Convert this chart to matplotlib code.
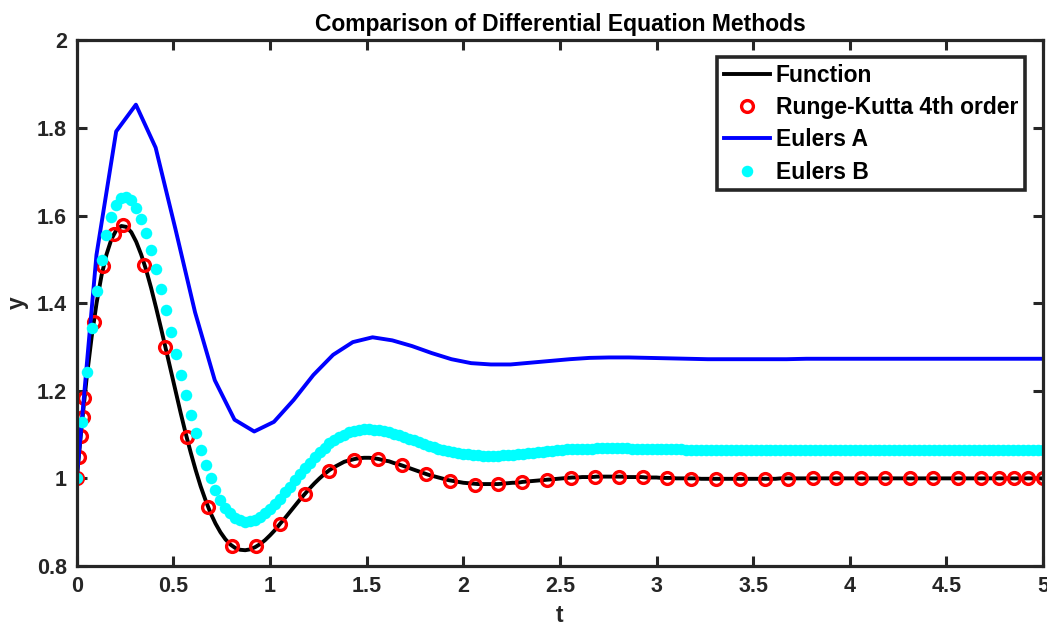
import numpy as np
import matplotlib
matplotlib.use("Agg")
import matplotlib.pyplot as plt
from matplotlib.ticker import FuncFormatter

# grids of the two Euler runs (the exact curve is sampled on the fine one)
t_fine = np.linspace(0, 5, 196)
t_coarse = np.linspace(0, 5, 50)

y_exact = [
    1.000, 1.121, 1.229, 1.322, 1.400, 1.463, 1.511, 1.546, 1.567, 1.576,
    1.574, 1.562, 1.540, 1.511, 1.476, 1.435, 1.390, 1.343, 1.294, 1.245,
    1.196, 1.148, 1.102, 1.059, 1.019, 0.982, 0.950, 0.921, 0.897, 0.877,
    0.861, 0.849, 0.841, 0.837, 0.836, 0.838, 0.843, 0.850, 0.859, 0.870,
    0.882, 0.896, 0.909, 0.923, 0.937, 0.951, 0.964, 0.977, 0.989, 1.000,
    1.010, 1.019, 1.026, 1.032, 1.038, 1.041, 1.044, 1.046, 1.047, 1.047,
    1.046, 1.044, 1.041, 1.039, 1.035, 1.032, 1.028, 1.024, 1.020, 1.016,
    1.012, 1.008, 1.005, 1.002, 0.999, 0.996, 0.994, 0.992, 0.990, 0.989,
    0.988, 0.987, 0.987, 0.987, 0.987, 0.987, 0.988, 0.989, 0.990, 0.990,
    0.992, 0.993, 0.994, 0.995, 0.996, 0.997, 0.998, 0.999, 1.000, 1.001,
    1.002, 1.002, 1.003, 1.003, 1.003, 1.004, 1.004, 1.004, 1.004, 1.004,
    1.004, 1.003, 1.003, 1.003, 1.003, 1.002, 1.002, 1.002, 1.001, 1.001,
    1.001, 1.000, 1.000, 1.000, 1.000, 1.000, 0.999, 0.999, 0.999, 0.999,
    0.999, 0.999, 0.999, 0.999, 0.999, 0.999, 0.999, 0.999, 0.999, 0.999,
    0.999, 0.999, 1.000, 1.000, 1.000, 1.000, 1.000, 1.000, 1.000, 1.000,
    1.000, 1.000, 1.000, 1.000, 1.000, 1.000, 1.000, 1.000, 1.000, 1.000,
    1.000, 1.000, 1.000, 1.000, 1.000, 1.000, 1.000, 1.000, 1.000, 1.000,
    1.000, 1.000, 1.000, 1.000, 1.000, 1.000, 1.000, 1.000, 1.000, 1.000,
    1.000, 1.000, 1.000, 1.000, 1.000, 1.000, 1.000, 1.000, 1.000, 1.000,
    1.000, 1.000, 1.000, 1.000, 1.000, 1.000,
]

y_euler_b = [
    1.000, 1.128, 1.243, 1.343, 1.428, 1.499, 1.555, 1.596, 1.624, 1.639,
    1.642, 1.635, 1.618, 1.592, 1.560, 1.521, 1.478, 1.432, 1.384, 1.335,
    1.285, 1.237, 1.190, 1.145, 1.104, 1.065, 1.031, 1.000, 0.974, 0.951,
    0.933, 0.920, 0.910, 0.904, 0.901, 0.902, 0.905, 0.911, 0.920, 0.930,
    0.941, 0.954, 0.968, 0.981, 0.996, 1.009, 1.023, 1.036, 1.048, 1.060,
    1.070, 1.080, 1.088, 1.095, 1.100, 1.105, 1.108, 1.111, 1.112, 1.112,
    1.111, 1.110, 1.108, 1.105, 1.102, 1.099, 1.095, 1.091, 1.087, 1.083,
    1.079, 1.075, 1.072, 1.068, 1.065, 1.062, 1.060, 1.058, 1.056, 1.055,
    1.053, 1.053, 1.052, 1.052, 1.052, 1.052, 1.053, 1.053, 1.054, 1.055,
    1.056, 1.057, 1.058, 1.060, 1.061, 1.062, 1.063, 1.064, 1.065, 1.066,
    1.066, 1.067, 1.068, 1.068, 1.068, 1.069, 1.069, 1.069, 1.069, 1.069,
    1.069, 1.069, 1.068, 1.068, 1.068, 1.068, 1.067, 1.067, 1.067, 1.066,
    1.066, 1.066, 1.066, 1.065, 1.065, 1.065, 1.065, 1.065, 1.064, 1.064,
    1.064, 1.064, 1.064, 1.064, 1.064, 1.064, 1.064, 1.064, 1.064, 1.065,
    1.065, 1.065, 1.065, 1.065, 1.065, 1.065, 1.065, 1.065, 1.065, 1.065,
    1.065, 1.065, 1.065, 1.065, 1.065, 1.065, 1.065, 1.065, 1.065, 1.065,
    1.065, 1.065, 1.065, 1.065, 1.065, 1.065, 1.065, 1.065, 1.065, 1.065,
    1.065, 1.065, 1.065, 1.065, 1.065, 1.065, 1.065, 1.065, 1.065, 1.065,
    1.065, 1.065, 1.065, 1.065, 1.065, 1.065, 1.065, 1.065, 1.065, 1.065,
    1.065, 1.065, 1.065, 1.065, 1.065, 1.065,
]

y_euler_a = [
    1.000, 1.510, 1.792, 1.853, 1.755, 1.570, 1.379, 1.224, 1.134, 1.107,
    1.129, 1.179, 1.236, 1.282, 1.311, 1.322, 1.315, 1.302, 1.286, 1.272,
    1.263, 1.260, 1.260, 1.264, 1.268, 1.272, 1.275, 1.276, 1.276, 1.275,
    1.274, 1.273, 1.272, 1.272, 1.272, 1.272, 1.272, 1.273, 1.273, 1.273,
    1.273, 1.273, 1.273, 1.273, 1.273, 1.273, 1.273, 1.273, 1.273, 1.273,
]

# adaptive RK4 output points
t_rk = [
    0.0, 0.01, 0.02, 0.03, 0.04, 0.088, 0.138, 0.195, 0.238, 0.35,
    0.457, 0.569, 0.681, 0.805, 0.93, 1.053, 1.179, 1.307, 1.433, 1.557,
    1.683, 1.807, 1.93, 2.06, 2.18, 2.305, 2.431, 2.555, 2.68, 2.805,
    2.93, 3.054, 3.18, 3.31, 3.43, 3.56, 3.68, 3.81, 3.93, 4.06,
    4.18, 4.31, 4.43, 4.56, 4.68, 4.77, 4.85, 4.92, 5.0,
]
y_rk = [
    1.000, 1.049, 1.096, 1.141, 1.183, 1.357, 1.485, 1.558, 1.578, 1.488,
    1.300, 1.094, 0.934, 0.846, 0.845, 0.896, 0.964, 1.017, 1.043, 1.045,
    1.030, 1.010, 0.995, 0.986, 0.987, 0.992, 0.997, 1.001, 1.003, 1.003,
    1.002, 1.000, 0.999, 0.998, 0.998, 0.999, 0.999, 1.000, 1.000, 1.000,
    1.000, 1.000, 1.000, 1.000, 1.000, 1.000, 1.000, 1.000, 1.000,
]

x_ticks = [0, 0.5, 1, 1.5, 2, 2.5, 3, 3.5, 4, 4.5, 5]
y_ticks = [0.8, 1, 1.2, 1.4, 1.6, 1.8, 2]

plt.rcParams['font.family'] = ['Liberation Sans', 'DejaVu Sans']
plt.rcParams['font.weight'] = 'bold'

axis_col = '#262626'

fig = plt.figure(figsize=(10.47, 6.30), dpi=100)
ax = fig.add_axes([0.0733, 0.1016, 0.9229, 0.8345])

ax.plot(t_fine, y_exact, color='black', lw=2.8, label='Function')
ax.plot(t_rk, y_rk, 'o', mfc='none', mec='red', mew=2.4, ms=8.5,
        label='Runge-Kutta 4th order')
ax.plot(t_coarse, y_euler_a, color='blue', lw=2.8, label='Eulers A')
ax.plot(t_fine, y_euler_b, 'o', color='cyan', mec='none', ms=8.3,
        label='Eulers B')

ax.set_xlim(0, 5)
ax.set_ylim(0.8, 2)
ax.set_xticks(x_ticks)
ax.set_yticks(y_ticks)
fmt = FuncFormatter(lambda v, _: f"{v:g}")
ax.xaxis.set_major_formatter(fmt)
ax.yaxis.set_major_formatter(fmt)
ax.tick_params(direction='in', length=7, width=2.2, top=True, right=True,
               labelsize=15.5, colors=axis_col, pad=7)
for sp in ax.spines.values():
    sp.set_linewidth(2.3)
    sp.set_color(axis_col)

ax.set_title('Comparison of Differential Equation Methods',
             fontsize=16.5, fontweight='bold', color='black', pad=7)
ax.set_xlabel('t', fontsize=16.5, fontweight='bold', color=axis_col, labelpad=5)
ax.set_ylabel('y', fontsize=16.5, fontweight='bold', color=axis_col, labelpad=6)

leg = ax.legend(loc='upper right', bbox_to_anchor=(0.9814, 0.9677),
                borderaxespad=0, fontsize=16.5, fancybox=False,
                edgecolor=axis_col, framealpha=1, borderpad=0.3,
                handlelength=2.0, handletextpad=0.25, labelspacing=0.4,
                numpoints=1)
leg.get_frame().set_linewidth(2.6)

fig.savefig('out.png', dpi=100, facecolor='white')
